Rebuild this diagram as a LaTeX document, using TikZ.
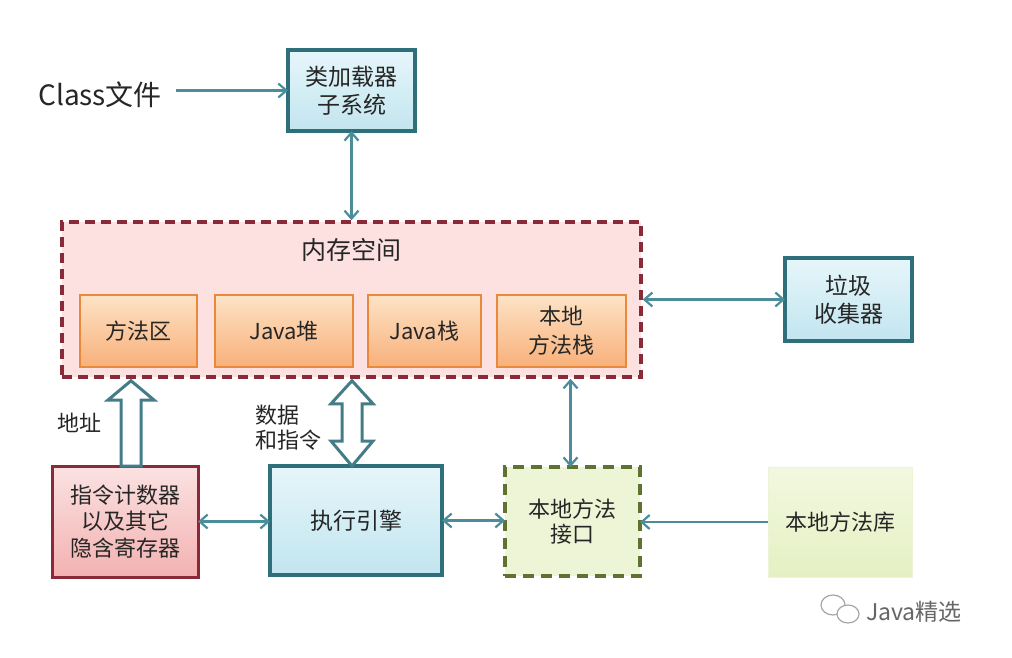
\documentclass[tikz,border=0pt]{standalone}
\usepackage{fontspec}
\setmainfont{Noto Sans CJK SC}
\usetikzlibrary{arrows.meta,calc}
\definecolor{arrc}{HTML}{4B8D9A}
\definecolor{tealb}{HTML}{2F6F7B}
\definecolor{redb}{HTML}{8A2A38}
\definecolor{oranb}{HTML}{E8893C}
\definecolor{greenb}{HTML}{5E7330}
\definecolor{txt}{HTML}{262626}
\definecolor{bluetop}{HTML}{E6F6FA}
\definecolor{bluebot}{HTML}{C2E5EF}
\definecolor{ortop}{HTML}{FDE3C6}
\definecolor{orbot}{HTML}{F8B07A}
\definecolor{pinktop}{HTML}{FBE2E2}
\definecolor{pinkbot}{HTML}{F3B1B1}
\definecolor{memfill}{HTML}{FDE0E0}
\definecolor{niffill}{HTML}{EEF5D6}
\definecolor{libtop}{HTML}{F2F8DF}
\definecolor{libbot}{HTML}{E5F0C3}
\tikzset{
  base/.style={rectangle, inner sep=0pt, outer sep=0pt, align=center, text=txt, font=\fontsize{23}{28}\selectfont},
  bluebox/.style={base, draw=tealb, line width=3.5pt, top color=bluetop, bottom color=bluebot},
  orbox/.style={base, draw=oranb, line width=2.5pt, top color=ortop, bottom color=orbot, font=\fontsize{22}{29}\selectfont},
  membox/.style={rectangle, draw=redb, line width=3.5pt, dash pattern=on 10pt off 6pt, fill=memfill},
  pcbox/.style={base, draw=redb, line width=3pt, top color=pinktop, bottom color=pinkbot, font=\fontsize{22}{26.5}\selectfont},
  nifbox/.style={base, draw=greenb, line width=3.5pt, dash pattern=on 11pt off 7pt, fill=niffill, font=\fontsize{22}{25}\selectfont},
  libbox/.style={base, draw=libbot!70, line width=1pt, top color=libtop, bottom color=libbot, font=\fontsize{22}{25}\selectfont},
  conn/.style={draw=arrc, line width=2.2pt},
  both/.style={conn, {Straight Barb[length=8pt,width=14pt]}-{Straight Barb[length=8pt,width=14pt]}},
  one/.style={conn, -{Straight Barb[length=8pt,width=14pt]}},
  hollow/.style={draw=tealb!90, line width=3pt, fill=white, line join=miter},
  lbl/.style={text=txt, align=center, font=\fontsize{22}{25}\selectfont, inner sep=0pt}
}
\begin{document}
\begin{tikzpicture}[x=1pt,y=-1pt]
\useasboundingbox[fill=white] (0,0) rectangle (1012,658);
% memory space
\node[membox, minimum width=579pt, minimum height=155pt] (mem) at (351.5,299.5) {};
\node[lbl, font=\fontsize{25}{28}\selectfont] (memt) at (351.5,250) {内存空间};
\node[orbox, minimum width=117pt, minimum height=72pt] (ma) at (138.5,331) {方法区};
\node[orbox, minimum width=138pt, minimum height=72pt] (heap) at (284,331) {Java堆};
\node[orbox, minimum width=113pt, minimum height=72pt] (stk) at (424.5,331) {Java栈};
\node[orbox, minimum width=129pt, minimum height=72pt] (nstk) at (561.5,331) {本地\\方法栈};
% top
\node[lbl, font=\fontsize{28}{30}\selectfont, anchor=west] (cls) at (38,95) {Class文件};
\node[bluebox, minimum width=127pt, minimum height=81pt] (loader) at (351.5,90.5) {类加载器\\子系统};
% right
\node[bluebox, minimum width=127pt, minimum height=83pt] (gc) at (848.5,299.5) {垃圾\\收集器};
% bottom row
\node[pcbox, minimum width=146pt, minimum height=111pt] (pc) at (125,521.5) {指令计数器\\以及其它\\隐含寄存器};
\node[bluebox, minimum width=172pt, minimum height=109pt] (exe) at (356,520.5) {执行引擎};
\node[nifbox, minimum width=135pt, minimum height=109pt] (nif) at (572.5,521.5) {本地方法\\接口};
\node[libbox, minimum width=144pt, minimum height=110pt] (lib) at (840,522) {本地方法库};
% labels
\node[lbl] (addr) at (79,423) {地址};
\node[lbl, align=left] (data) at (288,428) {数据\\和指令};
% connectors
\draw[one] ([xshift=14pt]cls.east |- loader.west) -- (loader.west);
\draw[both] (loader.south) -- (loader.south |- mem.north);
\draw[both] (mem.east |- gc.west) -- (gc.west);
\draw[both] (pc.east) -- (pc.east -| exe.west);
\draw[both] (exe.east) -- (exe.east -| nif.west);
\draw[one] (lib.west) -- (lib.west -| nif.east);
\draw[both] ([xshift=-2pt]nif.north) -- ([xshift=-2pt]nif.north |- mem.south);
% hollow arrow: address (pc -> memory)
\coordinate (a0) at ($(pc.north)+(6,0)$);
\draw[hollow] ($(a0)+(-10,0)$) -- ($(a0)+(-10,-66)$) -- ($(a0)+(-23,-66)$)
  -- ($(a0 |- mem.south)+(0,2)$) -- ($(a0)+(23,-66)$) -- ($(a0)+(10,-66)$) -- ($(a0)+(10,0)$) -- cycle;
% hollow double arrow: data and instructions (exe <-> memory)
\coordinate (b0) at ($(exe.north)+(-4,0)$);
\coordinate (b1) at ($(b0 |- mem.south)+(0,2)$);
\draw[hollow] (b1) -- ($(b1)+(21,23)$) -- ($(b1)+(10,23)$) -- ($(b0)+(10,-25)$) -- ($(b0)+(21,-25)$)
  -- (b0) -- ($(b0)+(-21,-25)$) -- ($(b0)+(-10,-25)$) -- ($(b1)+(-10,23)$) -- ($(b1)+(-21,23)$) -- cycle;
% watermark
\begin{scope}[draw=gray!70, line width=1.2pt]
  \draw (833,605) ellipse [x radius=12pt, y radius=10pt];
  \draw[fill=white] (848,614) ellipse [x radius=11pt, y radius=9pt];
\end{scope}
\node[text=gray!80!black, font=\fontsize{23}{25}\selectfont, anchor=west, inner sep=0pt] (wm) at (866,612) {Java精选};
\end{tikzpicture}
\end{document}
